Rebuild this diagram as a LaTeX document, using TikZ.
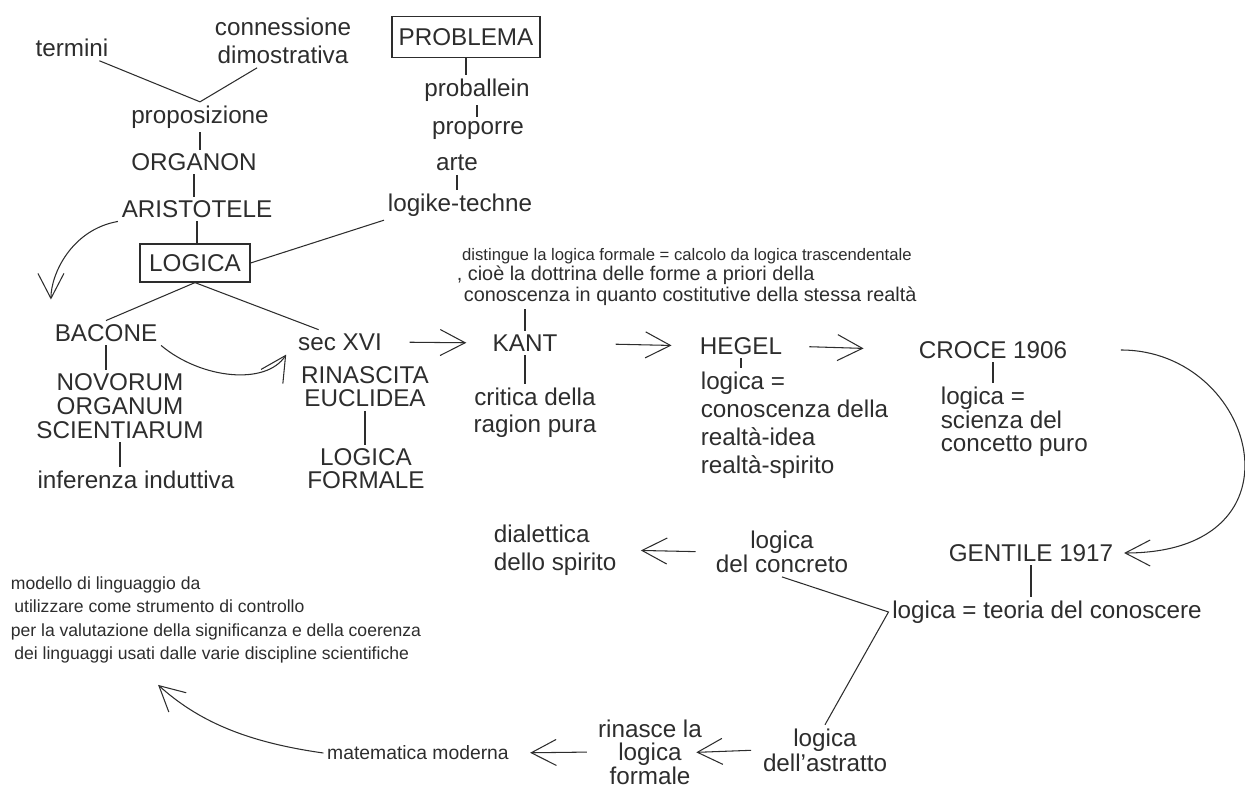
\documentclass[tikz,border=0pt]{standalone}
\usepackage{fontspec}
\setmainfont{Liberation Sans}
\usetikzlibrary{arrows.meta}
\definecolor{ink}{RGB}{45,45,45}

\begin{document}
\begin{tikzpicture}[x=0.02cm,y=0.02cm,font=\fontsize{13.8}{15}\selectfont,
  lbl/.style={inner sep=2pt,text=ink},
  box/.style={lbl,draw=ink,line width=0.7pt,minimum height=0.76cm},
  stack/.style={lbl,align=center},
  txt/.style={lbl,align=left,anchor=west},
  tick/.style={draw=ink,line width=0.6pt},
  arr/.style={draw=ink,line width=0.6pt,-{Straight Barb[length=0.5cm,width=0.52cm]}}]

  \useasboundingbox (0,0) rectangle (1245,-787);

  \node[lbl] (termini) at (72,-48) {termini};
  \node[stack,font=\fontsize{13.8}{16}\selectfont] (conn) at (283,-41) {connessione\\dimostrativa};
  \node[lbl] (prop) at (200,-117) {proposizione};
  \node[lbl] (organon) at (194,-162) {ORGANON};
  \node[lbl] (aristotele) at (197,-209) {ARISTOTELE};
  \node[box,minimum width=2.2cm] (logica) at (195,-263) {LOGICA};

  \node[box,minimum width=2.96cm,minimum height=0.82cm] (problema) at (466,-37) {PROBLEMA};
  \node[lbl] (proballein) at (477,-90) {proballein};
  \node[lbl] (proporre) at (478,-130) {proporre};
  \node[lbl] (arte) at (457,-163) {arte};
  \node[lbl] (logike) at (460,-205) {logike-techne};

  \node[lbl] (bacone) at (106,-333) {BACONE};
  \node[stack,font=\fontsize{13.8}{13.6}\selectfont] (novorum) at (120,-406) {NOVORUM\\ORGANUM\\SCIENTIARUM};
  \node[lbl] (induttiva) at (136,-480) {inferenza induttiva};

  \node[lbl] (secxvi) at (340,-342) {sec XVI};
  \node[stack,font=\fontsize{13.8}{13}\selectfont] (rinascita) at (365,-387) {RINASCITA\\EUCLIDEA};
  \node[stack,font=\fontsize{13.8}{13}\selectfont] (formale) at (366,-469) {LOGICA\\FORMALE};

  \node[txt,font=\fontsize{11.3}{11.5}\selectfont] (nota) at (453,-277)
    {\hspace*{3pt}{\fontsize{9.5}{11.5}\selectfont distingue la logica formale = calcolo da logica trascendentale}\\
     , cioè la dottrina delle forme a priori della\\
     \hspace*{4pt}conoscenza in quanto costitutive della stessa realtà};
  \node[lbl] (kant) at (525,-343) {KANT};
  \node[stack,font=\fontsize{13.8}{15.3}\selectfont] (critica) at (535,-413) {critica della\\ragion pura};

  \node[lbl] (hegel) at (741,-346) {HEGEL};
  \node[txt,font=\fontsize{13.8}{16}\selectfont] (hlogica) at (697,-425) {logica =\\conoscenza della\\realtà-idea\\realtà-spirito};

  \node[lbl] (croce) at (993,-350) {CROCE 1906};
  \node[txt,font=\fontsize{13.8}{13.4}\selectfont] (clogica) at (937,-422) {logica =\\scienza del\\concetto puro};

  \node[lbl] (gentile) at (1031,-553) {GENTILE 1917};
  \node[lbl] (teoria) at (1047,-612) {logica = teoria del conoscere};
  \node[stack,font=\fontsize{13.8}{12.4}\selectfont] (concreto) at (782,-552) {logica\\del concreto};
  \node[txt,font=\fontsize{13.8}{16}\selectfont] (dialettica) at (490,-550) {dialettica\\dello spirito};
  \node[stack,font=\fontsize{13.8}{14.2}\selectfont] (astratto) at (825,-750) {logica\\dell'astratto};
  \node[stack,font=\fontsize{13.8}{13.4}\selectfont] (rinasce) at (650,-752) {rinasce la\\logica\\formale};
  \node[lbl,font=\fontsize{11}{13}\selectfont] (matematica) at (418,-753) {matematica moderna};
  \node[txt,font=\fontsize{10}{13.2}\selectfont] (modello) at (7,-620)
    {modello di linguaggio da\\
     \hspace*{2pt}utilizzare come strumento di controllo\\
     per la valutazione della significanza e della coerenza\\
     \hspace*{2pt}dei linguaggi usati dalle varie discipline scientifiche};

  \draw[tick] (termini.-25) -- (prop.north) -- (conn.226);
  \draw[tick] (logica.east) -- (logike.south west);
  \draw[tick] (bacone.north) -- (logica.south) -- (secxvi.150);
  \draw[tick] (concreto.south) -- (teoria.west) -- (astratto.north);

  \foreach \a/\b in {prop/organon,organon/aristotele,aristotele/logica,
                     problema/proballein,proballein/proporre,arte/logike,
                     bacone/novorum,novorum/induttiva,rinascita/formale,
                     kant/critica,hegel/hlogica,croce/clogica,gentile/teoria} {
    \draw[tick] (\a.south) -- (\a.south |- \b.north);
  }
  \draw[tick] (kant.north) -- (kant.north |- nota.south);

  \draw[arr,shorten >=0.42cm] (aristotele.south west) to[out=190,in=90] (bacone.north west);
  \draw[arr,shorten >=0.3cm] (bacone.south east) to[out=-40,in=-123] (secxvi.west);
  \draw[arr,shorten <=0.48cm,shorten >=0.45cm] (secxvi.east) -- (kant.west);
  \draw[arr,shorten <=1.09cm,shorten >=0.49cm] (kant.east) -- (hegel.west);
  \draw[arr,shorten <=0.47cm,shorten >=1.03cm] (hegel.east) -- (croce.west);
  \draw[arr,shorten <=1cm,shorten >=0.14cm] (croce.east) .. controls +(185,0) and +(195,0) .. (gentile.east);
  \draw[arr,shorten <=0.33cm,shorten >=0.41cm] (concreto.west) -- (dialettica.east);
  \draw[arr,shorten <=0.16cm,shorten >=-0.19cm] (astratto.west) -- (rinasce.east);
  \draw[arr,shorten <=0.15cm,shorten >=0.35cm] (rinasce.west) -- (matematica.east);
  \draw[arr,shorten >=0.54cm] (matematica.west) to[out=172,in=-42] (modello.211);
\end{tikzpicture}
\end{document}
